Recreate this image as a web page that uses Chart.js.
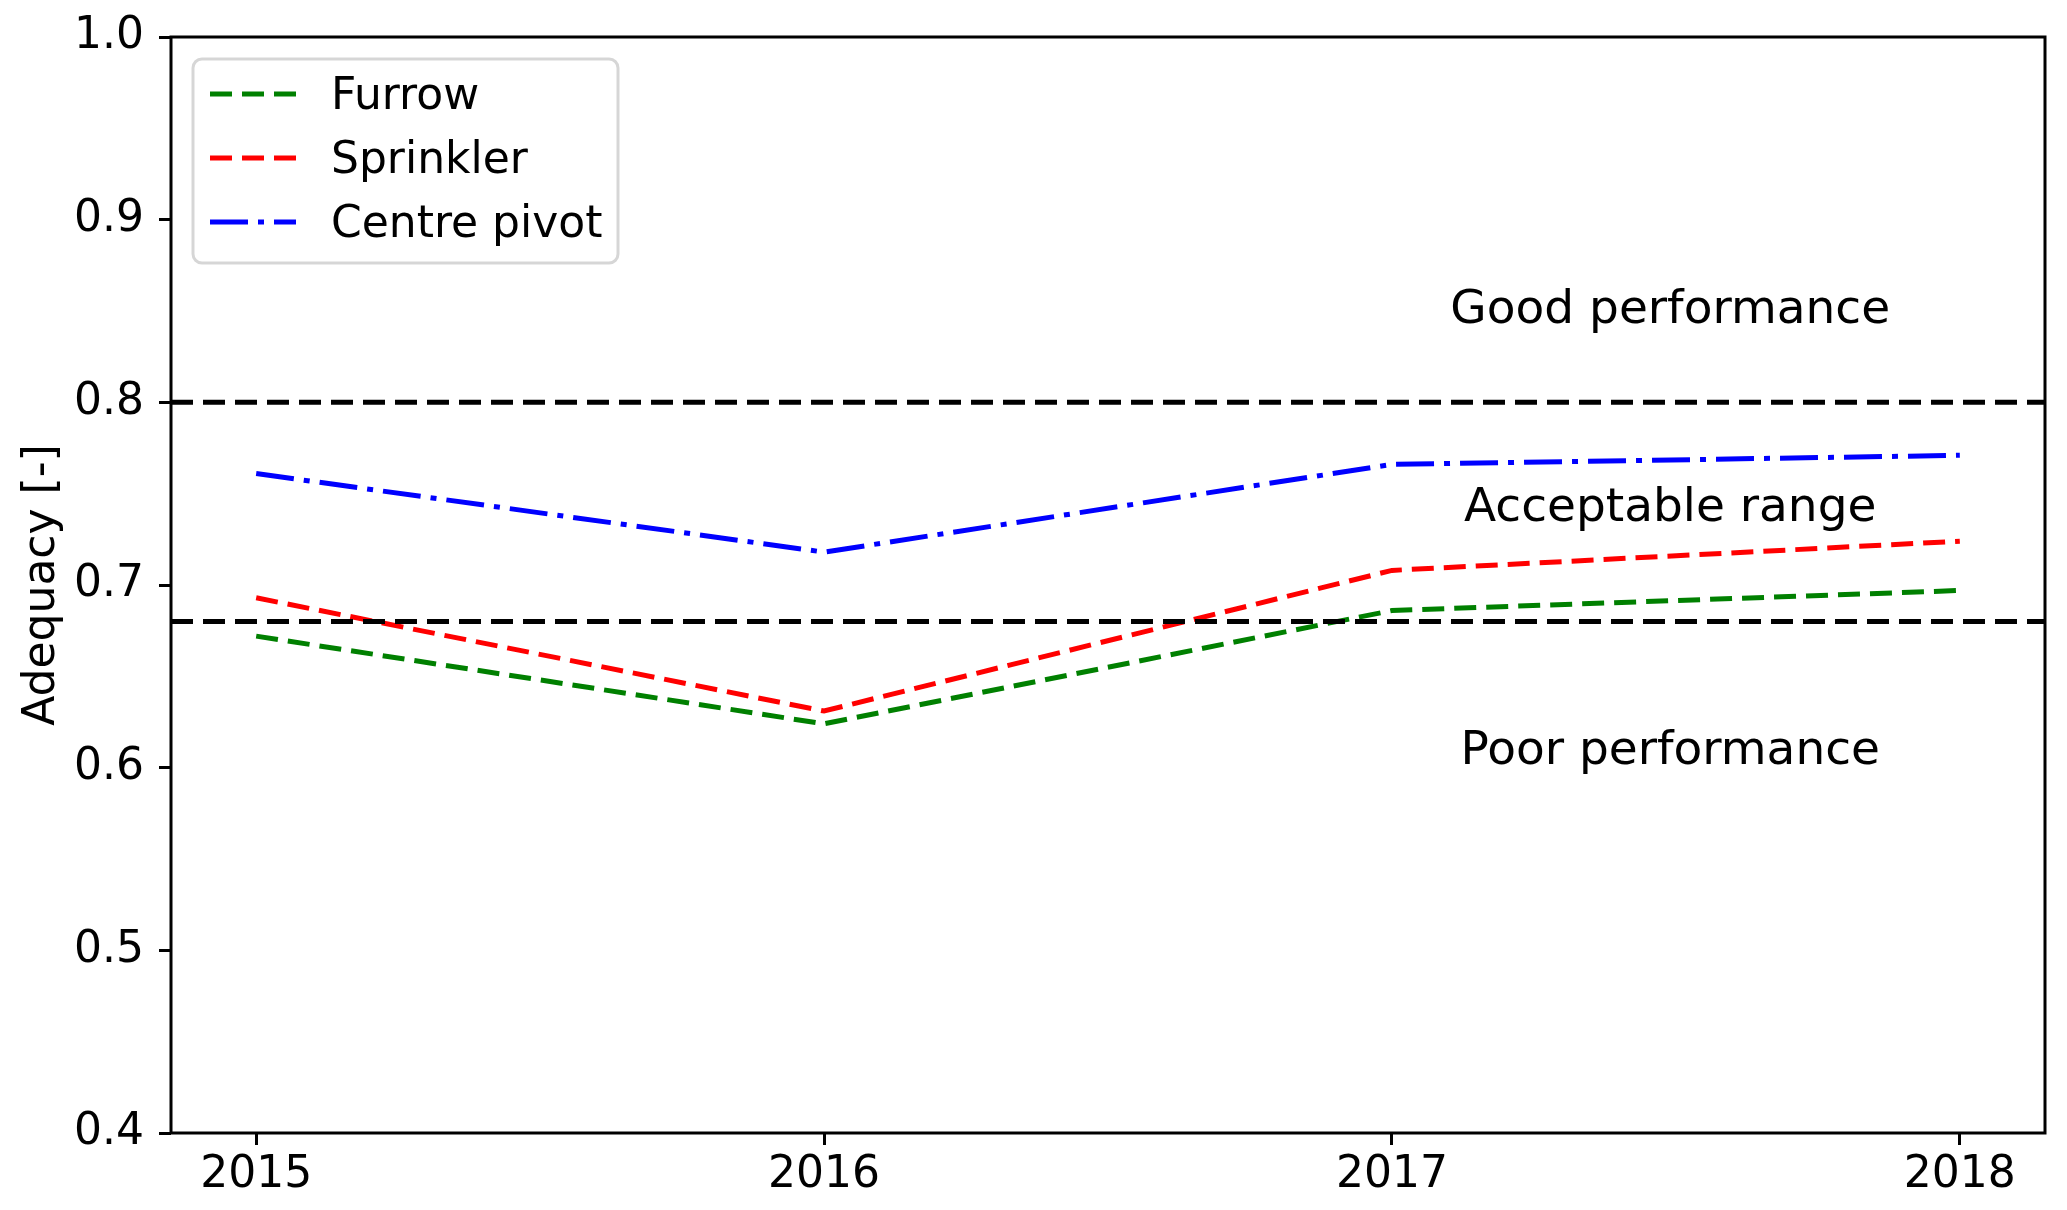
<!DOCTYPE html>
<html>
<head>
<meta charset="utf-8">
<script src="https://cdn.jsdelivr.net/npm/chart.js@4.4.1/dist/chart.umd.min.js"></script>
<style>
  html, body { margin: 0; padding: 0; background: #fff; }
  canvas { display: block; }
</style>
</head>
<body>
<canvas id="adequacyChart" width="2067" height="1210"></canvas>
<script>
// 연도별 관개 방식 적정성 데이터
const years = [2015, 2016, 2017, 2018];
const furrow = [0.672, 0.624, 0.686, 0.697];
const sprinkler = [0.693, 0.631, 0.708, 0.724];
const centrePivot = [0.761, 0.718, 0.766, 0.771];

// 기준선 (좋음 / 허용 범위 경계)
const thresholds = [0.8, 0.68];

// 축 눈금
const yTicks = [0.4, 0.5, 0.6, 0.7, 0.8, 0.9, 1.0];
const xRange = [2014.85, 2018.15];
const yRange = [0.4, 1.0];

// 영역 이름과 위치
const zoneLabels = ['Good performance', 'Acceptable range', 'Poor performance'];
const zoneY = [0.852, 0.744, 0.611];
const zoneX = 2017.49;

const FONT = "'DejaVu Sans', sans-serif";
const TICK_SIZE = 44;
const ZONE_SIZE = 47;

const seriesStyles = [
    { label: 'Furrow', data: furrow, color: '#008000', dash: [22, 10] },
    { label: 'Sprinkler', data: sprinkler, color: '#ff0000', dash: [22, 10] },
    { label: 'Centre pivot', data: centrePivot, color: '#0000ff', dash: [38, 10, 6, 10] }
];

const datasets = seriesStyles.map((s, i) => ({
    label: s.label,
    data: years.map((y, j) => ({ x: y, y: s.data[j] })),
    borderColor: s.color,
    borderWidth: 5,
    borderDash: s.dash,
    pointRadius: 0,
    tension: 0,
    fill: false,
    order: 10 + i
}));

thresholds.forEach((t, i) => {
    datasets.push({
        label: 'threshold' + i,
        data: xRange.map(x => ({ x: x, y: t })),
        borderColor: '#000',
        borderWidth: 5,
        borderDash: [22, 10],
        pointRadius: 0,
        fill: false,
        order: 1
    });
});

// 테두리, 영역 이름, 범례 그리기
const framePlugin = {
    id: 'frame',
    afterDraw(chart) {
        const { ctx, chartArea: a, scales } = chart;
        ctx.save();
        ctx.strokeStyle = '#000';
        ctx.lineWidth = 3;
        ctx.strokeRect(a.left, a.top, a.right - a.left, a.bottom - a.top);

        // 영역 텍스트 (대문자 높이 중앙 기준)
        ctx.fillStyle = '#000';
        ctx.font = ZONE_SIZE + 'px ' + FONT;
        ctx.textAlign = 'center';
        ctx.textBaseline = 'alphabetic';
        zoneLabels.forEach((txt, i) => {
            const px = scales.x.getPixelForValue(zoneX);
            const py = scales.y.getPixelForValue(zoneY[i]) + ZONE_SIZE * 0.34;
            ctx.fillText(txt, px, py);
        });

        // 범례
        const bx = 193, by = 59, bw = 425, bh = 204, r = 9;
        ctx.beginPath();
        ctx.roundRect(bx, by, bw, bh, r);
        ctx.fillStyle = 'rgba(255,255,255,0.8)';
        ctx.fill();
        ctx.lineWidth = 3;
        ctx.strokeStyle = 'rgba(204,204,204,0.8)';
        ctx.stroke();

        ctx.font = TICK_SIZE + 'px ' + FONT;
        ctx.textAlign = 'left';
        seriesStyles.forEach((s, i) => {
            const cy = 94 + i * 64;
            ctx.beginPath();
            ctx.setLineDash(s.dash);
            ctx.strokeStyle = s.color;
            ctx.lineWidth = 5;
            ctx.moveTo(210, cy);
            ctx.lineTo(296, cy);
            ctx.stroke();
            ctx.setLineDash([]);
            ctx.fillStyle = '#000';
            ctx.fillText(s.label, 331, cy + 15);
        });
        ctx.restore();
    }
};

const axisGrid = {
    display: true,
    drawOnChartArea: false,
    drawTicks: true,
    tickLength: 12,
    lineWidth: 3,
    color: '#000',
    tickColor: '#000'
};

new Chart(document.getElementById('adequacyChart'), {
    type: 'line',
    data: { datasets: datasets },
    options: {
        responsive: false,
        animation: false,
        devicePixelRatio: 1,
        layout: { padding: { top: 37, right: 22, left: 0, bottom: 0 } },
        plugins: {
            legend: { display: false },
            tooltip: { enabled: false }
        },
        scales: {
            x: {
                type: 'linear',
                min: xRange[0],
                max: xRange[1],
                afterBuildTicks: scale => { scale.ticks = years.map(v => ({ value: v })); },
                afterFit: scale => { scale.height = 77; },
                grid: axisGrid,
                border: { display: false },
                ticks: {
                    color: '#000',
                    font: { family: FONT, size: TICK_SIZE },
                    padding: 4,
                    maxRotation: 0,
                    callback: v => String(v)
                }
            },
            y: {
                type: 'linear',
                min: yRange[0],
                max: yRange[1],
                afterBuildTicks: scale => { scale.ticks = yTicks.map(v => ({ value: v })); },
                afterFit: scale => { scale.width = 171; },
                grid: axisGrid,
                border: { display: false },
                title: {
                    display: true,
                    text: 'Adequacy [-]',
                    color: '#000',
                    font: { family: FONT, size: TICK_SIZE },
                    padding: { top: 16, bottom: 0 }
                },
                ticks: {
                    color: '#000',
                    font: { family: FONT, size: TICK_SIZE, lineHeight: 0.8 },
                    padding: 15,
                    callback: v => v.toFixed(1)
                }
            }
        }
    },
    plugins: [framePlugin]
});
</script>
</body>
</html>
